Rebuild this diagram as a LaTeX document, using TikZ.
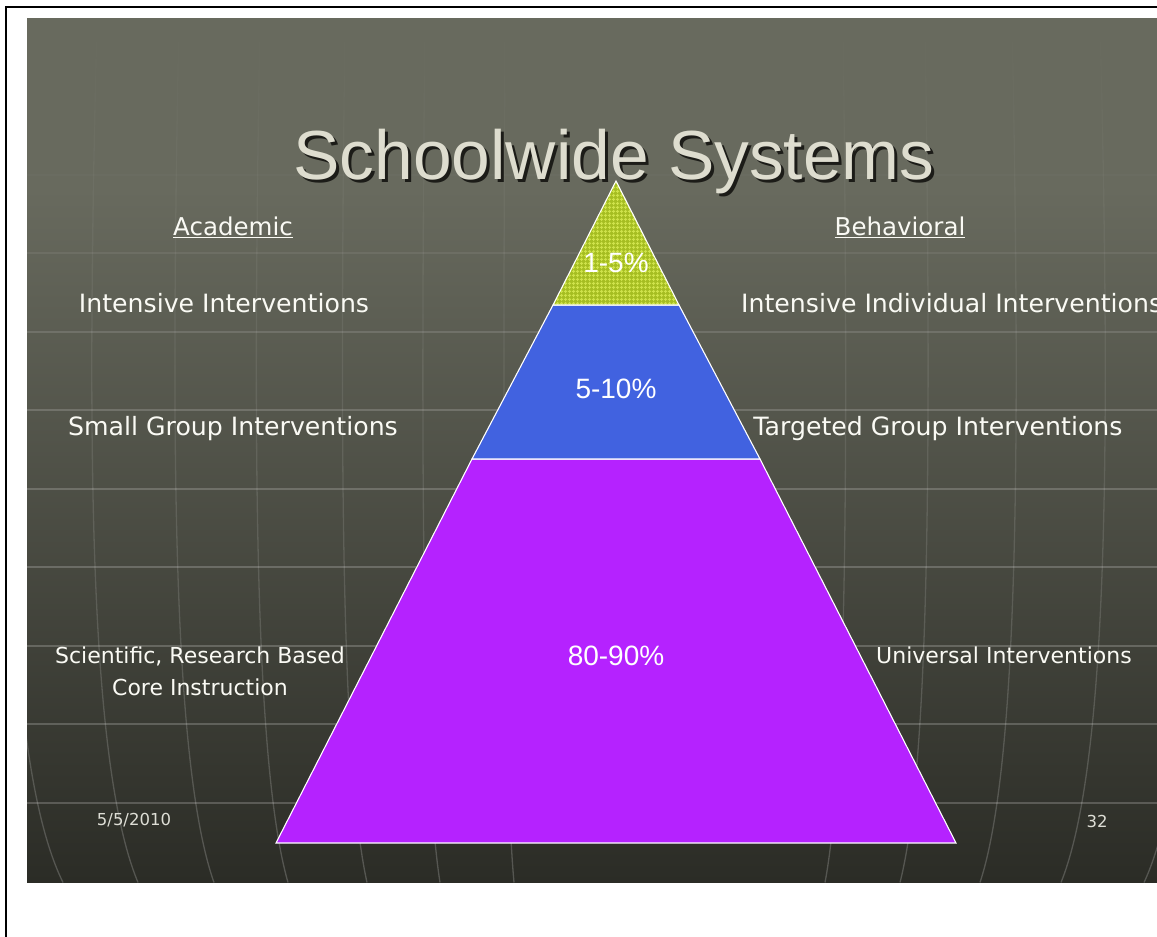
\documentclass[tikz,border=0pt]{standalone}
\usepackage{fontspec}
\setmainfont{DejaVu Sans}
\newfontfamily\arialfont{Liberation Sans}
\usetikzlibrary{patterns,fadings}

\tikzfading[name=gridfade, top color=transparent!100, middle color=transparent!35, bottom color=transparent!0]

% checks of the top tier
\pgfdeclarepatternformonly{tipchecks}{\pgfpointorigin}{\pgfpoint{4pt}{4pt}}{\pgfpoint{4pt}{4pt}}{%
  \pgfsetlinewidth{1.1pt}%
  \pgfpathmoveto{\pgfpoint{0pt}{2pt}}\pgfpathlineto{\pgfpoint{4pt}{2pt}}%
  \pgfpathmoveto{\pgfpoint{2pt}{0pt}}\pgfpathlineto{\pgfpoint{2pt}{4pt}}%
  \pgfusepath{stroke}}

\tikzset{
  hline/.style={line width=1.6pt, draw=white},
  meridian/.style={line width=1.3pt, draw=white, draw opacity=0.2, path fading=gridfade},
  tier/.style={draw=white, line width=1.1pt, line join=miter},
  headlabel/.style={text=labeltext, anchor=base, inner sep=0pt, font=\fontsize{24.5}{30}\selectfont},
  sidelabel/.style={text=labeltext, anchor=base, inner sep=0pt, font=\fontsize{25.2}{30}\selectfont},
  lowlabel/.style={text=labeltext, anchor=base, inner sep=0pt, align=center, font=\fontsize{22}{32}\selectfont},
  pctlabel/.style={text=white, anchor=base, inner sep=0pt, font=\arialfont\fontsize{28}{32}\selectfont},
  footlabel/.style={text=footgrey, anchor=base, inner sep=0pt, font=\fontsize{16.5}{20}\selectfont}
}

\begin{document}
\begin{tikzpicture}[x=1pt,y=-1pt]
  \useasboundingbox (0,0) rectangle (1157,937);

  % Changing color for slide background
  \definecolor{bgtop}{RGB}{104,106,94}%
  \definecolor{bgmid}{RGB}{82,83,72}%
  \definecolor{bgbot}{RGB}{43,44,38}%
  \definecolor{labeltext}{RGB}{250,250,244}%
  \definecolor{footgrey}{RGB}{222,222,214}%
  \definecolor{titletext}{RGB}{222,221,207}%
  \definecolor{titleshade}{RGB}{28,28,24}%

  % Page frame
  \draw[line width=2pt] (6,937) -- (6,7) -- (1157,7);

  % Filling slide
  \fill[bgtop] (27,18) rectangle (1157,190);
  \shade[top color=bgtop, middle color=bgmid, bottom color=bgbot] (27,189) rectangle (1157,882);

  \begin{scope}
    \clip (27,18) rectangle (1157,882);

    % Drawing horizontal grid lines
    \draw[hline, draw opacity=0.02] (27,175) -- (1157,175);
    \draw[hline, draw opacity=0.07] (27,253) -- (1157,253);
    \draw[hline, draw opacity=0.13] (27,332) -- (1157,332);
    \draw[hline, draw opacity=0.17] (27,410) -- (1157,410);
    \draw[hline, draw opacity=0.19] (27,489) -- (1157,489);
    \draw[hline, draw opacity=0.20] (27,567) -- (1157,567);
    \draw[hline, draw opacity=0.20] (27,646) -- (1157,646);
    \draw[hline, draw opacity=0.20] (27,724) -- (1157,724);
    \draw[hline, draw opacity=0.20] (27,803) -- (1157,803);

    % Drawing meridians
    \draw[meridian] (-75,18) .. controls (-89,420) and (-89,760) .. (-20,882);
    \draw[meridian] (15,18) .. controls (3,420) and (3,760) .. (63,882);
    \draw[meridian] (97,18) .. controls (87,420) and (87,760) .. (138,882);
    \draw[meridian] (179,18) .. controls (171,420) and (171,760) .. (214,882);
    \draw[meridian] (260,18) .. controls (253,420) and (253,760) .. (288,882);
    \draw[meridian] (345,18) .. controls (340,420) and (340,760) .. (367,882);
    \draw[meridian] (425,18) .. controls (421,420) and (421,760) .. (440,882);
    \draw[meridian] (505,18) .. controls (503,420) and (503,760) .. (514,882);
    \draw[meridian] (843,18) .. controls (848,420) and (848,760) .. (825,882);
    \draw[meridian] (925,18) .. controls (931,420) and (931,760) .. (900,882);
    \draw[meridian] (1012,18) .. controls (1020,420) and (1020,760) .. (980,882);
    \draw[meridian] (1100,18) .. controls (1110,420) and (1110,760) .. (1061,882);
    \draw[meridian] (1190,18) .. controls (1201,420) and (1201,760) .. (1144,882);
  \end{scope}

  % Title with shadow
  \node[text=titleshade, anchor=base, inner sep=0pt, font=\arialfont\fontsize{69.5}{80}\selectfont] (titleshadow) at (617,182) {Schoolwide Systems};
  \node[text=titletext, anchor=base, inner sep=0pt, font=\arialfont\fontsize{69.5}{80}\selectfont] (title) at (614,179) {Schoolwide Systems};

  % Pyramid corners
  \coordinate (apex) at (616,181);
  \coordinate (tipL) at (553,305);
  \coordinate (tipR) at (679,305);
  \coordinate (midL) at (472,459);
  \coordinate (midR) at (760,459);
  \coordinate (baseL) at (276,843);
  \coordinate (baseR) at (956,843);

  % Changing color 166 190 34
  \definecolor{tipfill}{RGB}{166,190,34}%
  \definecolor{tipgrid}{RGB}{206,226,74}%
  \definecolor{midfill}{RGB}{65,98,224}%
  \definecolor{basefill}{RGB}{181,34,255}%

  % Filling base tier
  \filldraw[tier, fill=basefill] (midL) -- (midR) -- (baseR) -- (baseL) -- cycle;
  % Filling middle tier
  \filldraw[tier, fill=midfill] (tipL) -- (tipR) -- (midR) -- (midL) -- cycle;
  % Filling tip with checks
  \fill[tipfill] (apex) -- (tipR) -- (tipL) -- cycle;
  \fill[pattern=tipchecks, pattern color=tipgrid] (apex) -- (tipR) -- (tipL) -- cycle;
  \draw[tier] (apex) -- (tipR) -- (tipL) -- cycle;

  % Percentages
  \node[pctlabel] (tippct) at (616,272) {1-5\%};
  \node[pctlabel] (midpct) at (616,398) {5-10\%};
  \node[pctlabel] (basepct) at (616,665) {80-90\%};

  % Column heads
  \node[headlabel] (academic) at (233,235) {\underline{Academic}};
  \node[headlabel] (behavioral) at (900,235) {\underline{Behavioral}};

  % Academic side
  \node[sidelabel] (acadtip) at (224,312) {Intensive Interventions};
  \node[sidelabel] (acadmid) at (233,435) {Small Group Interventions};
  \node[lowlabel] (acadbase) at (200,695) {Scientific, Research Based\\Core Instruction};

  % Behavioral side
  \node[sidelabel, anchor=base west] (behavtip) at (741,312) {Intensive Individual Interventions};
  \node[sidelabel] (behavmid) at (938,435) {Targeted Group Interventions};
  \node[lowlabel] (behavbase) at (1004,663) {Universal Interventions};

  % Footer
  \node[footlabel] (date) at (134,825) {5/5/2010};
  \node[footlabel] (pageno) at (1097,827) {32};
\end{tikzpicture}
\end{document}
